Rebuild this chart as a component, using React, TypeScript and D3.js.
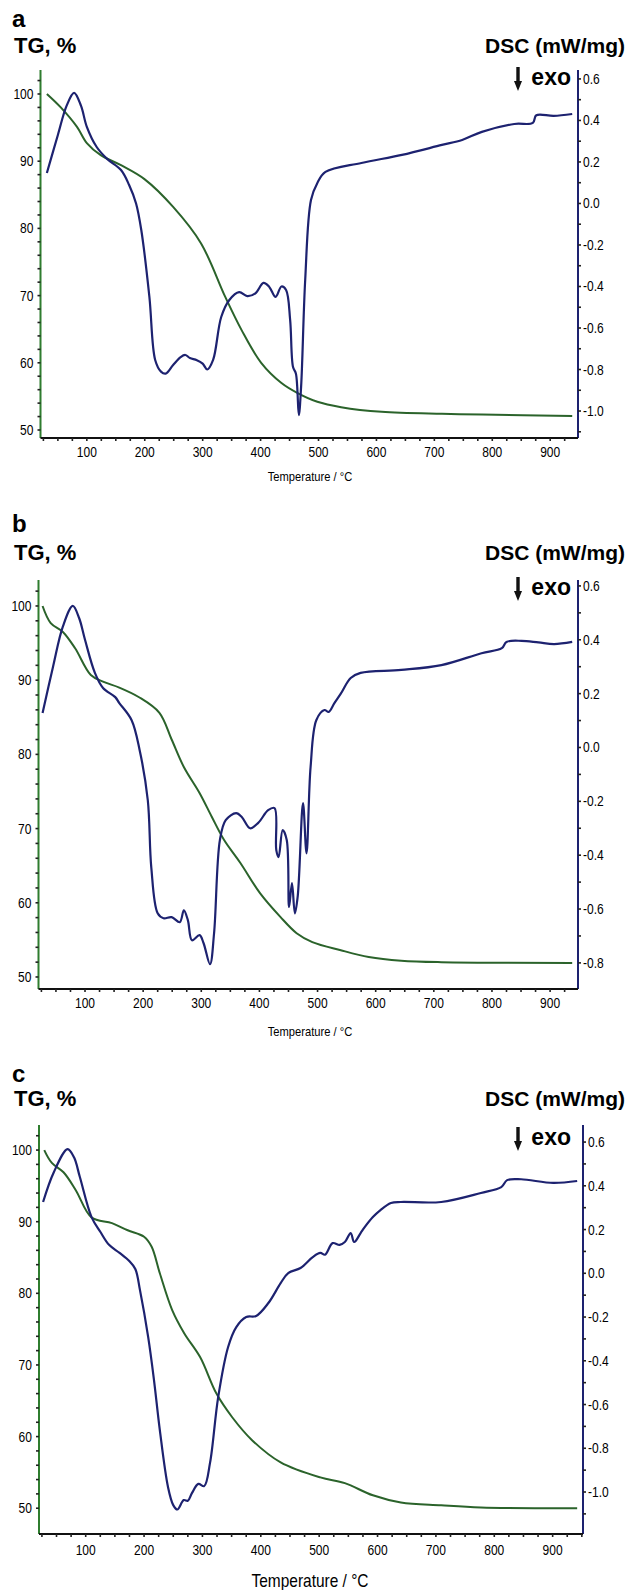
import React from "react";
import * as d3 from "d3";

// [temperature °C, value] pairs
const tgA: [number, number][] = [[31,100],[55,98],[83,95.1],[100,92.7],[124,90.9],[159,89.4],[200,87.3],[249,83.2],[297,77.8],[339,69.8],[367,64.9],[401,60],[436,57],[464,55.5],[498,54.2],[539,53.4],[609,52.7],[713,52.4],[782,52.3],[938,52.1]];
const dscA: [number, number][] = [[31,0.147],[50,0.33],[65,0.47],[78,0.533],[90,0.47],[100,0.369],[117,0.272],[135,0.215],[159,0.161],[173,0.089],[185,0.0],[194,-0.128],[208,-0.45],[218,-0.754],[228,-0.81],[236,-0.82],[249,-0.778],[262,-0.74],[270,-0.73],[278,-0.745],[290,-0.755],[300,-0.772],[308,-0.8],[318,-0.754],[332,-0.547],[346,-0.465],[363,-0.427],[377,-0.446],[391,-0.433],[405,-0.383],[415,-0.402],[426,-0.45],[436,-0.4],[444,-0.417],[451,-0.561],[456,-0.788],[461,-0.82],[466,-1.02],[470,-0.88],[477,-0.369],[487,0.017],[498,0.099],[512,0.152],[574,0.195],[644,0.234],[713,0.282],[748,0.306],[782,0.345],[838,0.383],[870,0.388],[876,0.425],[906,0.422],[938,0.431]];

const tgB: [number, number][] = [[27,100],[41,97.7],[62,96.5],[83,94.3],[110,90.7],[131,89.8],[159,89],[193,87.7],[228,85.6],[249,82],[270,78.3],[297,74.8],[318,71.6],[339,68.5],[367,65.4],[401,61.3],[436,58.1],[464,55.9],[491,54.7],[540,53.6],[588,52.7],[644,52.2],[713,52],[938,51.9]];
const dscB: [number, number][] = [[27,0.128],[45,0.3],[62,0.45],[79,0.526],[90,0.48],[100,0.4],[117,0.277],[131,0.221],[152,0.187],[159,0.165],[180,0.102],[194,-0.01],[208,-0.196],[214,-0.445],[225,-0.616],[235,-0.634],[249,-0.63],[263,-0.649],[270,-0.605],[277,-0.642],[284,-0.716],[297,-0.697],[304,-0.727],[315,-0.805],[322,-0.69],[332,-0.344],[342,-0.27],[360,-0.244],[370,-0.259],[384,-0.3],[398,-0.28],[415,-0.233],[426,-0.225],[429,-0.381],[433,-0.407],[440,-0.307],[447,-0.344],[451,-0.593],[456,-0.504],[461,-0.616],[466,-0.55],[475,-0.207],[481,-0.393],[488,-0.073],[498,0.102],[512,0.139],[519,0.132],[529,0.165],[540,0.2],[557,0.258],[574,0.277],[644,0.288],[713,0.306],[782,0.35],[817,0.369],[825,0.392],[851,0.396],[880,0.39],[907,0.384],[938,0.392]];

const tgC: [number, number][] = [[29,100],[42,98.2],[62,96.9],[83,94.4],[110,90.6],[145,89.8],[172,88.8],[200,87.9],[213,86.5],[227,82.8],[248,77.7],[269,74.4],[296,71.1],[324,66],[351,62.7],[385,59.5],[434,56.4],[502,54.3],[544,53.5],[592,51.8],[640,50.8],[709,50.4],[777,50.1],[942,50]];
const dscC: [number, number][] = [[27,0.326],[45,0.46],[69,0.568],[80,0.53],[90,0.44],[110,0.257],[125,0.19],[140,0.13],[158,0.093],[175,0.055],[185,0.02],[193,-0.077],[207,-0.291],[217,-0.488],[227,-0.717],[241,-0.977],[250,-1.06],[257,-1.08],[268,-1.037],[275,-1.04],[282,-1.005],[293,-0.963],[303,-0.973],[313,-0.867],[327,-0.566],[344,-0.337],[358,-0.246],[375,-0.2],[392,-0.195],[413,-0.136],[434,-0.045],[447,0.001],[468,0.024],[489,0.074],[502,0.093],[510,0.085],[523,0.138],[535,0.13],[544,0.143],[554,0.184],[560,0.143],[571,0.184],[578,0.211],[592,0.257],[605,0.289],[623,0.321],[640,0.326],[709,0.326],[777,0.367],[812,0.394],[822,0.426],[846,0.43],[901,0.413],[942,0.422]];

const tempTicks = [100, 200, 300, 400, 500, 600, 700, 800, 900];
const tgTicks = [50, 60, 70, 80, 90, 100];
const dscTicksAC = [0.6, 0.4, 0.2, 0.0, -0.2, -0.4, -0.6, -0.8, -1.0];
const dscTicksB = [0.6, 0.4, 0.2, 0.0, -0.2, -0.4, -0.6, -0.8];

const GREEN = "#2b632b";
const GREEN_AXIS = "#2f7d2f";
const NAVY = "#1d2270";
const BOLD = "'Liberation Sans', Arial, sans-serif";
const NARROW = "'Liberation Sans Narrow', 'Arial Narrow', 'Liberation Sans', Arial, sans-serif";

const panels = [
  { letter: "a", tg: tgA, dsc: dscA, letterY: 27, titleY: 53, exoY: 78, top: 70, bottom: 438, left: 40.5, right: 578,
    xDomain: [20, 948], tgDomain: [48.81, 103.57], dscDomain: [-1.13, 0.643], dscTicks: dscTicksAC, tickY: 457, xTitleY: 481, xTitleSize: 13 },
  { letter: "b", tg: tgB, dsc: dscB, letterY: 532, titleY: 560, exoY: 588, top: 580, bottom: 989, left: 38.5, right: 578,
    xDomain: [20, 948], tgDomain: [48.38, 103.5], dscDomain: [-0.897, 0.622], dscTicks: dscTicksB, tickY: 1008, xTitleY: 1036, xTitleSize: 13 },
  { letter: "c", tg: tgC, dsc: dscC, letterY: 1082, titleY: 1106, exoY: 1138, top: 1125, bottom: 1534, left: 39, right: 583,
    xDomain: [20, 952], tgDomain: [46.4, 103.5], dscDomain: [-1.192, 0.678], dscTicks: dscTicksAC, tickY: 1555, xTitleY: 1587, xTitleSize: 18 },
];

// condensed look of the instrument software labels
const Narrow = ({ x, y, anchor, size, children }: any) => (
  <text transform={`translate(${x},${y}) scale(0.86,1)`} textAnchor={anchor} fontFamily={NARROW} fontSize={size}>{children}</text>
);

function Panel({ p }: { p: any }) {
  const x = d3.scaleLinear().domain(p.xDomain).range([p.left, p.right]);
  const yTG = d3.scaleLinear().domain(p.tgDomain).range([p.bottom, p.top]);
  const yDSC = d3.scaleLinear().domain(p.dscDomain).range([p.bottom, p.top]);
  const tgLine = d3.line<[number, number]>().x(d => x(d[0])).y(d => yTG(d[1])).curve(d3.curveCatmullRom.alpha(0.5));
  const dscLine = d3.line<[number, number]>().x(d => x(d[0])).y(d => yDSC(d[1])).curve(d3.curveCatmullRom.alpha(0.5));

  const minorX = d3.range(25, p.xDomain[1], 25);
  const minorTG = d3.range(50, p.tgDomain[1], 2);
  const minorDSC = d3.range(Math.ceil(p.dscDomain[0] * 10), Math.floor(p.dscDomain[1] * 10) + 1).map(v => v / 10);

  const ax = 518; // exo arrow
  return (
    <g>
      <text x={12} y={p.letterY} fontFamily={BOLD} fontWeight="bold" fontSize={24}>{p.letter}</text>
      <text x={14} y={p.titleY} fontFamily={BOLD} fontWeight="bold" fontSize={22}>TG, %</text>
      <text x={625} y={p.titleY} textAnchor="end" fontFamily={BOLD} fontWeight="bold" fontSize={21}>DSC (mW/mg)</text>
      <path d={`M${ax},${p.exoY - 11}V${p.exoY + 4}`} stroke="#111" strokeWidth={3.4} />
      <path d={`M${ax - 4},${p.exoY + 3}L${ax + 4},${p.exoY + 3}L${ax},${p.exoY + 13}Z`} fill="#111" />
      <text x={571} y={p.exoY + 7} textAnchor="end" fontFamily={BOLD} fontWeight="bold" fontSize={23}>exo</text>

      {/* axes */}
      <line x1={p.left} x2={p.left} y1={p.top} y2={p.bottom} stroke={GREEN_AXIS} strokeWidth={2} />
      <line x1={p.right} x2={p.right} y1={p.top} y2={p.bottom} stroke={NAVY} strokeWidth={2} />
      <line x1={p.left} x2={p.right} y1={p.bottom} y2={p.bottom} stroke="#111" strokeWidth={2} />

      {minorX.map(t => (
        <line key={"mx" + t} x1={x(t)} x2={x(t)} y1={p.bottom} y2={p.bottom + 3} stroke="#222" strokeWidth={1.6} />
      ))}
      {minorTG.map(t => (
        <line key={"mt" + t} x1={p.left - 3} x2={p.left} y1={yTG(t)} y2={yTG(t)} stroke="#222" strokeWidth={1.6} />
      ))}
      {minorDSC.map(t => (
        <line key={"md" + t} x1={p.right} x2={p.right + 3} y1={yDSC(t)} y2={yDSC(t)} stroke="#222" strokeWidth={1.6} />
      ))}

      {tempTicks.map(t => (
        <Narrow key={"xt" + t} x={x(t)} y={p.tickY} anchor="middle" size={14}>{t}</Narrow>
      ))}
      {tgTicks.map(t => (
        <Narrow key={"yt" + t} x={p.left - 7} y={yTG(t) + 5} anchor="end" size={14}>{t}</Narrow>
      ))}
      {p.dscTicks.map((t: number) => (
        <Narrow key={"dt" + t} x={p.right + 5} y={yDSC(t) + 5} anchor="start" size={14}>{d3.format(".1f")(t).replace("−", "-")}</Narrow>
      ))}
      <Narrow x={310} y={p.xTitleY} anchor="middle" size={p.xTitleSize}>Temperature / °C</Narrow>

      <path d={tgLine(p.tg) || ""} fill="none" stroke={GREEN} strokeWidth={2} />
      <path d={dscLine(p.dsc) || ""} fill="none" stroke={NAVY} strokeWidth={2.2} />
    </g>
  );
}

export default function App() {
  return (
    <svg width={629} height={1590} style={{ position: "absolute", left: 0, top: 0, background: "#fff" }}>
      {panels.map(p => <Panel key={p.letter} p={p} />)}
    </svg>
  );
}
